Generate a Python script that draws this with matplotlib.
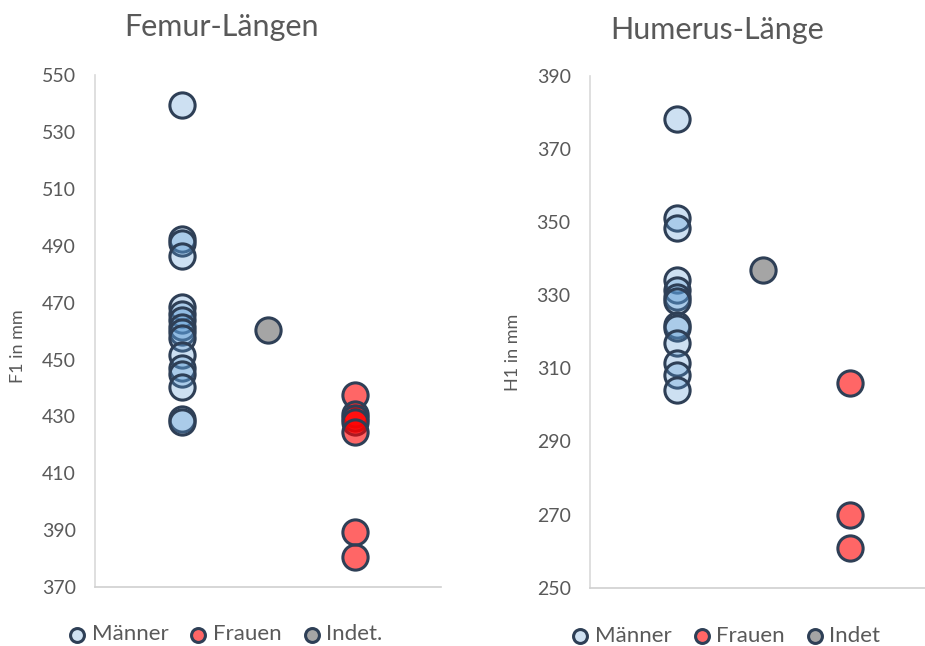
import numpy as np
import matplotlib
matplotlib.use("Agg")
import matplotlib.pyplot as plt

plt.rcParams['font.family'] = ['Lato', 'DejaVu Sans']

# ---------- data ----------
femur_maenner = [539.5, 492.5, 491, 486.5, 468.5, 466, 464, 461.5, 459.5, 457.5,
                 451.5, 447, 445, 440.5, 429, 428]
femur_frauen = [437.5, 431, 429.5, 428, 424.5, 389.5, 380.5]
femur_indet = [460.5]

humerus_maenner = [378.2, 351.1, 348.4, 334.2, 331.5, 329.6, 328.3, 321.9, 321.0,
                   316.9, 311.4, 308.2, 304.1]
humerus_frauen = [306, 270, 261]
humerus_indet = [337]

edge = '#2e3f56'
col_m = (91/255, 155/255, 213/255, 0.3)
col_f = (1.0, 0.0, 0.0, 0.6)
col_i = '#a5a5a5'
txt = '#595959'

fig = plt.figure(figsize=(9.25, 6.46), dpi=100)

def panel(rect, m, f, i, ylim, ylabel, title, title_xy, leg_xy, indet_label):
    ax = fig.add_axes(rect)
    s = 330
    ax.scatter(np.ones(len(m)), m, s=s, color=col_m, edgecolors=edge, linewidths=2.2,
               label='Männer', zorder=3)
    ax.scatter(np.full(len(f), 3), f, s=s, color=col_f, edgecolors=edge, linewidths=2.2,
               label='Frauen', zorder=3)
    ax.scatter(np.full(len(i), 2), i, s=s, color=col_i, edgecolors=edge, linewidths=2.2,
               label=indet_label, zorder=3)
    ax.set_xlim(0, 4)
    ax.set_ylim(*ylim)
    ax.set_yticks(np.arange(ylim[0], ylim[1] + 1, 20))
    ax.set_xticks([])
    for sp in ['top', 'right']:
        ax.spines[sp].set_visible(False)
    ax.spines['left'].set_color('#d9d9d9')
    ax.spines['bottom'].set_color('#d0d0d0')
    ax.spines['left'].set_linewidth(1.2)
    ax.spines['bottom'].set_linewidth(1.2)
    ax.tick_params(axis='y', length=0, labelsize=14, colors=txt, pad=14)
    ax.set_ylabel(ylabel, fontsize=13, color=txt)
    ax.yaxis.set_label_coords(-0.2, 0.47)
    fig.text(title_xy[0], title_xy[1], title, ha='center', va='center', fontsize=22, color=txt)
    handles, labels = ax.get_legend_handles_labels()
    leg = fig.legend(handles, labels,
                     loc='center', bbox_to_anchor=leg_xy, ncol=3, frameon=False,
                     fontsize=16, markerscale=0.55, handlelength=0.9, handletextpad=0.2,
                     columnspacing=0.9, labelcolor=txt)
    # solid colour markers in legend
    for h, c in zip(leg.legend_handles, ['#cfe1f2', '#ff6666', col_i]):
        h.set_facecolor(c)
    return ax

panel([0.103, 0.091, 0.374, 0.793], femur_maenner, femur_frauen, femur_indet,
      (370, 550), 'F1 in mm', 'Femur-Längen', (0.239, 0.958), (0.243, 0.018), 'Indet.')
ax2 = panel([0.638, 0.09, 0.374, 0.793], humerus_maenner, humerus_frauen, humerus_indet,
            (250, 390), 'H1 in mm', 'Humerus-Länge', (0.775, 0.954), (0.784, 0.015), 'Indet')
ax2.yaxis.set_label_coords(-0.2, 0.46)

fig.savefig('out.png', dpi=100)
